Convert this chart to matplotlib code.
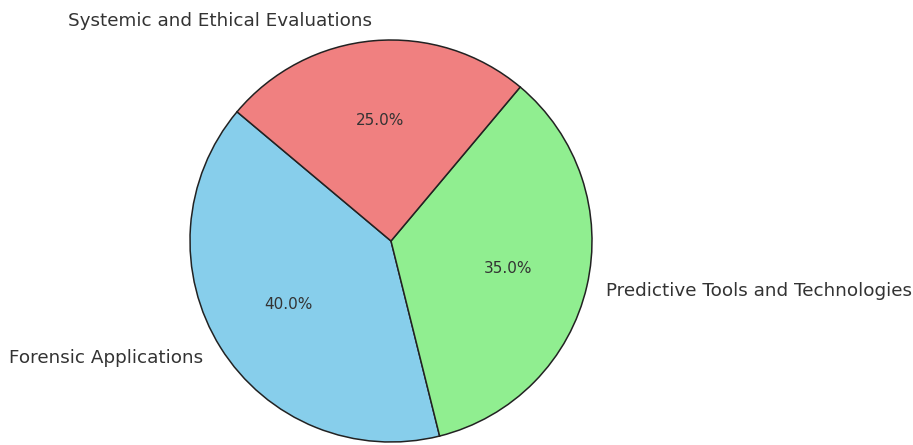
import matplotlib
matplotlib.use("Agg")
import matplotlib.pyplot as plt

categories = ["Forensic Applications", "Predictive Tools and Technologies", "Systemic and Ethical Evaluations"]
shares = [40, 35, 25]
colors = ["skyblue", "lightgreen", "lightcoral"]

W, H = 913, 445
cx, cy, r = 391, 241, 201

fig = plt.figure(figsize=(W / 100, H / 100), dpi=100)
ax = fig.add_axes([0, 0, 1, 1])
ax.pie(
    shares,
    labels=categories,
    colors=colors,
    autopct="%1.1f%%",
    startangle=140,
    wedgeprops={"edgecolor": "#222222", "linewidth": 1.1},
    textprops={"fontsize": 13.2, "color": "#333333"},
)
for t in ax.texts:
    if t.get_text().endswith("%"):
        t.set_fontsize(11)
ax.set_xlim(-cx / r, (W - cx) / r)
ax.set_ylim(-(H - cy) / r, cy / r)
ax.set_aspect("equal")
ax.axis("off")

fig.savefig("out.png", dpi=100)
